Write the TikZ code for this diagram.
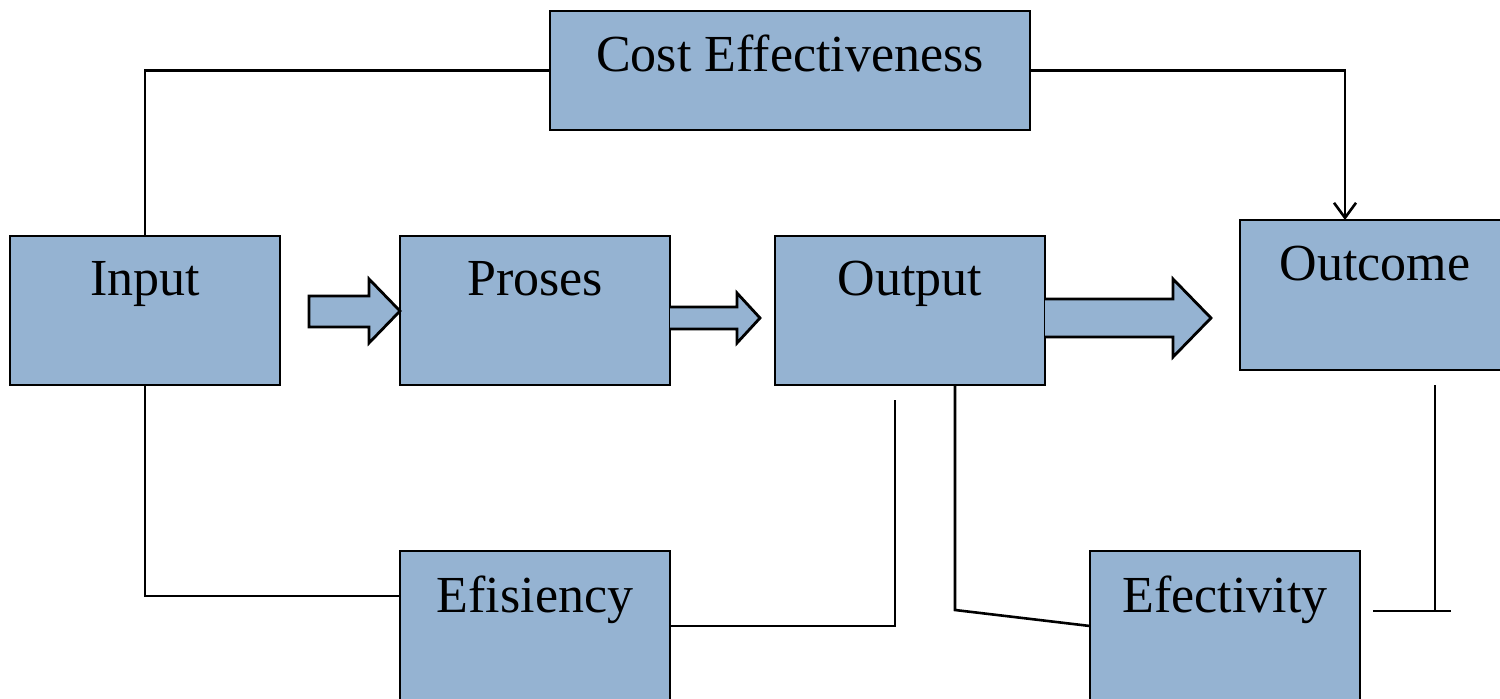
\documentclass[tikz,border=0pt]{standalone}
\usepackage{fontspec}
\setmainfont{Liberation Serif}
\usetikzlibrary{arrows.meta}
\definecolor{boxfill}{RGB}{149,179,210}
\tikzset{
  box/.style={draw=black, fill=boxfill, line width=2.8pt, minimum width=270pt, minimum height=150pt, inner sep=0pt, outer sep=0pt},
  boxtext/.style={font=\fontsize{52}{62}\selectfont},
  conn/.style={line width=2.6pt, line join=miter},
  blockarrow/.style={draw=black, fill=boxfill, line width=2.8pt, line join=miter},
}
\begin{document}
\begin{tikzpicture}[x=1pt,y=-1pt]
\useasboundingbox (0,0) rectangle (1500,699);
\clip (0,0) rectangle (1500,699);
% boxes
\node[box, minimum width=480pt, minimum height=119pt, label={[boxtext,anchor=base,yshift=-60pt]north:Cost Effectiveness}] (cost) at (790,70.5) {};
\node[box, minimum height=149pt, label={[boxtext,anchor=base,yshift=-59pt]north:Input}] (in) at (145,310.5) {};
\node[box, minimum height=149pt, label={[boxtext,anchor=base,yshift=-59pt]north:Proses}] (pro) at (535,310.5) {};
\node[box, minimum height=149pt, label={[boxtext,anchor=base,yshift=-59pt]north:Output}] (out) at (910,310.5) {};
\node[box, label={[boxtext,anchor=base,yshift=-60pt]north:Outcome}] (outc) at (1375,295) {};
\node[box, label={[boxtext,anchor=base,yshift=-61pt]north:Efisiency}] (efis) at (535,626) {};
\node[box, label={[boxtext,anchor=base,yshift=-61pt]north:Efectivity}] (efec) at (1225,626) {};
% block arrows
\draw[blockarrow] (309,296) -- (369,296) -- (369,279) -- (pro.west |- 0,311) -- (369,343) -- (369,327) -- (309,327) -- cycle;
\draw[blockarrow] (pro.east |- 0,307) -- (737,307) -- (737,293) -- (760,318) -- (737,343) -- (737,329) -- (pro.east |- 0,329);
\draw[blockarrow] (out.east |- 0,299) -- (1173,299) -- (1173,279) -- (1211,318) -- (1173,357) -- (1173,337) -- (out.east |- 0,337);
% connectors
\coordinate (c1) at (895,400);
\coordinate (c2) at (955,610);
\coordinate (c3) at (1435,385);
\coordinate (c4) at (1435,611);
\coordinate (c5) at (1373,611);
\coordinate (c6) at (1451,611);
\draw[conn] (in.north) |- (cost.west);
\draw[conn, -{Straight Barb[length=15pt,width=22pt,line width=2.6pt]}] (cost.east) -| ([xshift=-30pt]outc.north);
\draw[conn] (in.south) |- ([yshift=30pt]efis.west);
\draw[conn] (efis.east) -| (c1);
\draw[conn] ([xshift=45pt]out.south) -- (c2) -- (efec.west);
\draw[conn] (c3) -- (c4);
\draw[conn] (c5) -- (c6);
\end{tikzpicture}
\end{document}
